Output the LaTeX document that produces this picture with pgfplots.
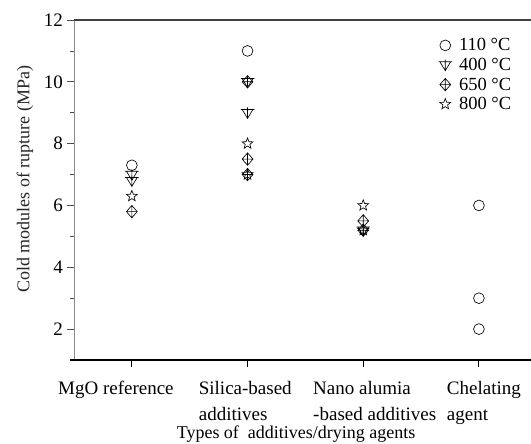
\documentclass[border=0pt]{standalone}
\usepackage{fontspec}
\setmainfont{Liberation Serif}
\usepackage{pgfplots}
\pgfplotsset{compat=1.18}

\pgfdeclareplotmark{dplus}{%
  \pgfpathmoveto{\pgfpoint{0pt}{1.15\pgfplotmarksize}}%
  \pgfpathlineto{\pgfpoint{\pgfplotmarksize}{0pt}}%
  \pgfpathlineto{\pgfpoint{0pt}{-1.15\pgfplotmarksize}}%
  \pgfpathlineto{\pgfpoint{-\pgfplotmarksize}{0pt}}%
  \pgfpathclose
  \pgfpathmoveto{\pgfpoint{0pt}{1.15\pgfplotmarksize}}%
  \pgfpathlineto{\pgfpoint{0pt}{-1.15\pgfplotmarksize}}%
  \pgfpathmoveto{\pgfpoint{-\pgfplotmarksize}{0pt}}%
  \pgfpathlineto{\pgfpoint{\pgfplotmarksize}{0pt}}%
  \pgfusepathqstroke}
\pgfdeclareplotmark{tdbar}{%
  \pgfpathmoveto{\pgfpoint{-\pgfplotmarksize}{0.6\pgfplotmarksize}}%
  \pgfpathlineto{\pgfpoint{\pgfplotmarksize}{0.6\pgfplotmarksize}}%
  \pgfpathlineto{\pgfpoint{0pt}{-1.05\pgfplotmarksize}}%
  \pgfpathclose
  \pgfpathmoveto{\pgfpoint{-1.25\pgfplotmarksize}{0.6\pgfplotmarksize}}%
  \pgfpathlineto{\pgfpoint{1.25\pgfplotmarksize}{0.6\pgfplotmarksize}}%
  \pgfpathmoveto{\pgfpoint{0pt}{1.0\pgfplotmarksize}}%
  \pgfpathlineto{\pgfpoint{0pt}{-1.05\pgfplotmarksize}}%
  \pgfusepathqstroke}
\pgfdeclareplotmark{ostar}{%
  \pgfpathmoveto{\pgfpointpolar{90}{1.05\pgfplotmarksize}}%
  \pgfpathlineto{\pgfpointpolar{126}{0.45\pgfplotmarksize}}%
  \pgfpathlineto{\pgfpointpolar{162}{1.05\pgfplotmarksize}}%
  \pgfpathlineto{\pgfpointpolar{198}{0.45\pgfplotmarksize}}%
  \pgfpathlineto{\pgfpointpolar{234}{1.05\pgfplotmarksize}}%
  \pgfpathlineto{\pgfpointpolar{270}{0.45\pgfplotmarksize}}%
  \pgfpathlineto{\pgfpointpolar{306}{1.05\pgfplotmarksize}}%
  \pgfpathlineto{\pgfpointpolar{342}{0.45\pgfplotmarksize}}%
  \pgfpathlineto{\pgfpointpolar{18}{1.05\pgfplotmarksize}}%
  \pgfpathlineto{\pgfpointpolar{54}{0.45\pgfplotmarksize}}%
  \pgfpathclose
  \pgfusepathqstroke}

\newcommand\lbl[2]{\makebox[0pt][l]{\hspace*{#1pt}\begin{tabular}[t]{@{}l@{}}#2\end{tabular}}}

\begin{document}
\begin{tikzpicture}[x=1pt,y=1pt]
\path[use as bounding box] (0,0) rectangle (531,444);
\begin{axis}[
  anchor=south west, at={(74pt,84pt)},
  scale only axis, width=457pt, height=340pt,
  xmin=-0.5, xmax=3.45, ymin=1, ymax=12,
  axis line style={draw=none},
  xtick={0,1,2,3},
  xticklabels={
    {\lbl{-73.7}{MgO reference}},
    {\lbl{-48.7}{Silica-based\\additives}},
    {\lbl{-50}{Nano alumia\\-based additives}},
    {\lbl{-32}{Chelating\\agent}}},
  xticklabel style={inner sep=0pt, anchor=north, yshift=-9pt,
    font=\fontsize{19}{26}\selectfont},
  ytick={2,4,...,12},
  minor ytick={3,5,...,11},
  xtick pos=bottom, ytick pos=left,
  tick align=outside,
  major tick length=7pt, minor tick length=4pt,
  x tick style={black, line width=1pt},
  y tick style={black!70, line width=0.8pt},
  yticklabel style={font=\fontsize{19}{22}\selectfont, inner sep=4pt},
  /pgf/number format/assume math mode=true,
  xlabel={Types of\ \ additives/drying agents},
  xlabel style={at={(rel axis cs:0.486,0)}, anchor=base, yshift=-78.5pt,
    font=\fontsize{18}{20}\selectfont},
  ylabel={Cold modules of rupture (MPa)},
  ylabel style={at={(rel axis cs:-0.1072,0.531)}, anchor=center,
    font=\fontsize{18}{20}\selectfont, black!85},
  legend style={draw=none, fill=none, at={(rel axis cs:0.795,0.955)},
    anchor=north west, font=\fontsize{18.5}{19}\selectfont,
    row sep=1.8pt, inner sep=1pt, nodes={inner xsep=7pt}},
  legend cell align=left,
  every axis plot/.append style={only marks, black, line width=0.65pt, mark size=5.4pt},
  clip=false,
]
\addplot[mark=o] coordinates {(0,7.3) (1,11) (3,6) (3,3) (3,2)};
\addlegendentry{110 °C}
\addplot[mark=tdbar] coordinates {(0,7.0) (0,6.8) (1,10) (1,9) (2,5.2)};
\addlegendentry{400 °C}
\addplot[mark=dplus] coordinates {(0,5.8) (1,10) (1,7.5) (1,7.0) (2,5.5) (2,5.2)};
\addlegendentry{650 °C}
\addplot[mark=ostar] coordinates {(0,6.3) (1,8) (1,7.0) (2,6.0) (2,5.2)};
\addlegendentry{800 °C}
\draw[black!45, line width=0.9pt] (rel axis cs:0,0) -- (rel axis cs:0,1);
\draw[black!75, line width=1.8pt] (rel axis cs:0,1) -- (rel axis cs:1,1);
\draw[black, line width=1.2pt] ([xshift=-4pt]rel axis cs:0,0) -- (rel axis cs:1,0);
\end{axis}
\end{tikzpicture}
\end{document}
